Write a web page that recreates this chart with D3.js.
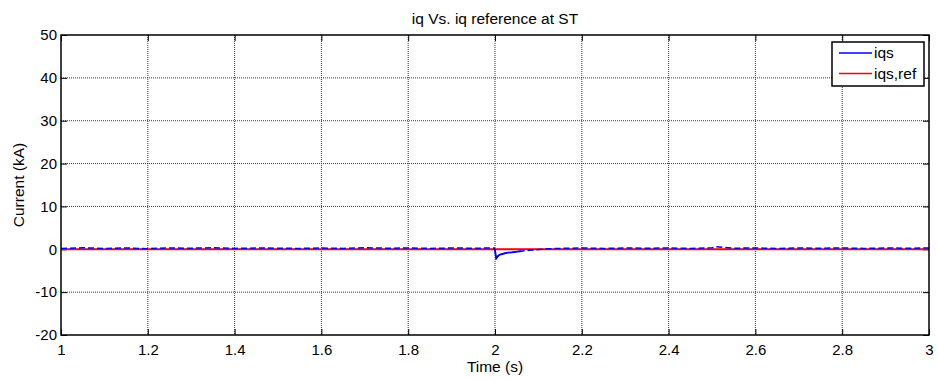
<!DOCTYPE html>
<html>
<head>
<meta charset="utf-8">
<script src="https://cdn.jsdelivr.net/npm/d3@7"></script>
<style>
  body { margin: 0; background: #fff; }
  svg { font-family: "Liberation Sans", Arial, sans-serif; }
</style>
</head>
<body>
<script>
// data
var iqsTime = [1, 1.05, 1.1, 1.15, 1.2, 1.25, 1.3, 1.35, 1.4, 1.45, 1.5, 1.55, 1.6, 1.65, 1.7, 1.75, 1.8, 1.85, 1.9, 1.95, 1.998,
               2.0, 2.003, 2.006, 2.01, 2.02, 2.03, 2.04, 2.06, 2.08, 2.1, 2.12,
               2.15, 2.2, 2.25, 2.3, 2.35, 2.4, 2.45, 2.5, 2.51, 2.55, 2.6, 2.65, 2.7, 2.75, 2.8, 2.85, 2.9, 2.95, 3];
var iqsValue = [0.2, 0.35, 0.2, 0.3, 0.15, 0.3, 0.25, 0.35, 0.2, 0.3, 0.25, 0.2, 0.3, 0.2, 0.35, 0.25, 0.3, 0.2, 0.3, 0.25, 0.3,
                -0.3, -2.1, -1.7, -1.3, -1.0, -0.8, -0.7, -0.45, -0.25, -0.05, 0.1,
                0.2, 0.3, 0.2, 0.3, 0.25, 0.3, 0.2, 0.35, 0.6, 0.25, 0.3, 0.2, 0.3, 0.25, 0.3, 0.2, 0.3, 0.25, 0.3];
var refTime = [1, 2, 2.1, 3];
var refValue = [0, 0, 0, 0];

var xTicks = [1, 1.2, 1.4, 1.6, 1.8, 2, 2.2, 2.4, 2.6, 2.8, 3];
var yTicks = [-20, -10, 0, 10, 20, 30, 40, 50];

var titleText = "iq Vs. iq reference at ST";
var xLabel = "Time (s)";
var yLabel = "Current (kA)";
var legendNames = ["iqs", "iqs,ref"];
var legendColors = ["#0000ff", "#ff0000"];

var width = 938, height = 379;
var pLeft = 61, pRight = 929, pTop = 35, pBottom = 335;

var x = d3.scaleLinear().domain([1, 3]).range([pLeft, pRight]);
var y = d3.scaleLinear().domain([-20, 50]).range([pBottom, pTop]);

var svg = d3.select("body").append("svg")
    .attr("width", width)
    .attr("height", height);

// grid
svg.append("g").selectAll("line")
    .data(xTicks.slice(1, -1))
    .enter().append("line")
    .attr("x1", function(d) { return x(d); })
    .attr("x2", function(d) { return x(d); })
    .attr("y1", pTop).attr("y2", pBottom)
    .attr("stroke", "#222").attr("stroke-width", 0.9)
    .attr("stroke-dasharray", "1,1");

svg.append("g").selectAll("line")
    .data(yTicks.slice(1, -1))
    .enter().append("line")
    .attr("y1", function(d) { return y(d); })
    .attr("y2", function(d) { return y(d); })
    .attr("x1", pLeft).attr("x2", pRight)
    .attr("stroke", "#222").attr("stroke-width", 0.9)
    .attr("stroke-dasharray", "1,1");

// axes (ticks inward)
svg.append("g")
    .attr("transform", "translate(0," + pBottom + ")")
    .call(d3.axisBottom(x).tickValues(xTicks).tickSizeInner(-6).tickSizeOuter(0).tickPadding(9).tickFormat(String))
    .call(function(g) { g.select(".domain").remove(); });

svg.append("g")
    .attr("transform", "translate(0," + pTop + ")")
    .call(d3.axisTop(x).tickValues(xTicks).tickSizeInner(-6).tickSizeOuter(0).tickFormat(""))
    .call(function(g) { g.select(".domain").remove(); });

svg.append("g")
    .attr("transform", "translate(" + pLeft + ",0)")
    .call(d3.axisLeft(y).tickValues(yTicks).tickSizeInner(-6).tickSizeOuter(0).tickPadding(4).tickFormat(String))
    .call(function(g) { g.select(".domain").remove(); });

svg.append("g")
    .attr("transform", "translate(" + pRight + ",0)")
    .call(d3.axisRight(y).tickValues(yTicks).tickSizeInner(-6).tickSizeOuter(0).tickFormat(""))
    .call(function(g) { g.select(".domain").remove(); });

svg.selectAll(".tick text")
    .attr("font-size", 15)
    .attr("font-family", "Liberation Sans, Arial, sans-serif")
    .attr("fill", "#000");
svg.selectAll(".tick line").attr("stroke", "#000");

// lines
var line = d3.line()
    .x(function(d) { return x(d[0]); })
    .y(function(d) { return y(d[1]); });

var iqsPts = d3.zip(iqsTime, iqsValue);

svg.append("path")
    .datum(d3.zip(refTime, refValue))
    .attr("d", line)
    .attr("fill", "none")
    .attr("stroke", legendColors[1])
    .attr("stroke-width", 2);

svg.append("path")
    .datum(iqsPts)
    .attr("d", line)
    .attr("fill", "none")
    .attr("stroke", legendColors[0])
    .attr("stroke-width", 1.5)
    .attr("stroke-dasharray", "6,3");

// transient after the step is drawn solid
svg.append("path")
    .datum(iqsPts.filter(function(d) { return d[0] >= 1.998 && d[0] <= 2.06; }))
    .attr("d", line)
    .attr("fill", "none")
    .attr("stroke", legendColors[0])
    .attr("stroke-width", 1.8);

// frame
svg.append("rect")
    .attr("x", pLeft).attr("y", pTop)
    .attr("width", pRight - pLeft).attr("height", pBottom - pTop)
    .attr("fill", "none").attr("stroke", "#000").attr("stroke-width", 1.5);

// titles
svg.append("text")
    .attr("x", (pLeft + pRight) / 2).attr("y", 24)
    .attr("text-anchor", "middle")
    .attr("font-size", 15.5)
    .text(titleText);

svg.append("text")
    .attr("x", (pLeft + pRight) / 2).attr("y", 372)
    .attr("text-anchor", "middle")
    .attr("font-size", 15.5)
    .text(xLabel);

svg.append("text")
    .attr("transform", "translate(24," + (pTop + pBottom) / 2 + ") rotate(-90)")
    .attr("text-anchor", "middle")
    .attr("font-size", 15.5)
    .text(yLabel);

// legend
var lg = svg.append("g").attr("transform", "translate(832,42)");
lg.append("rect")
    .attr("width", 92).attr("height", 44)
    .attr("fill", "#fff").attr("stroke", "#000").attr("stroke-width", 1.5);
var items = lg.selectAll("g.item")
    .data(legendNames)
    .enter().append("g")
    .attr("transform", function(d, i) { return "translate(0," + (11 + i * 20.5) + ")"; });
items.append("line")
    .attr("x1", 7).attr("x2", 40)
    .attr("stroke", function(d, i) { return legendColors[i]; })
    .attr("stroke-width", 1.5);
items.append("text")
    .attr("x", 42).attr("y", 5)
    .attr("font-size", 15.5)
    .text(function(d) { return d; });
</script>
</body>
</html>
